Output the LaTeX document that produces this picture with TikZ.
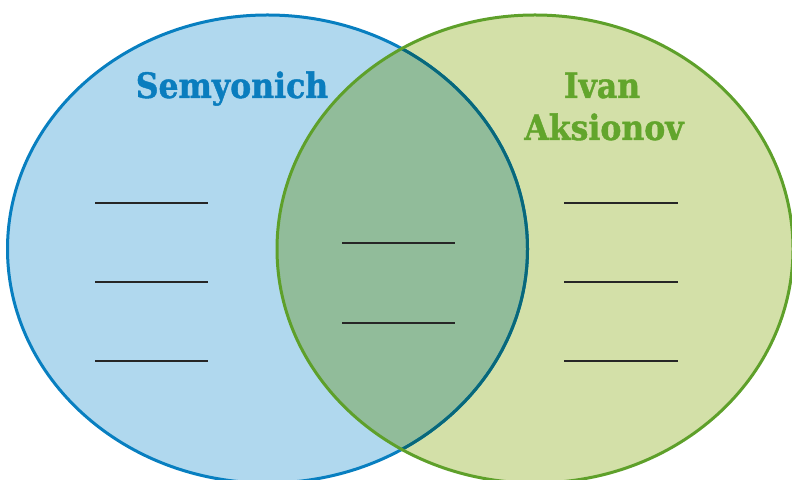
\documentclass[tikz,border=0pt]{standalone}
\usepackage{fontspec}
\newfontfamily\labelfont[FakeStretch=0.9,FakeBold=1.2]{DejaVu Serif}
\definecolor{bluefill}{RGB}{176,216,238}
\definecolor{greenfill}{RGB}{211,224,168}
\definecolor{overlapfill}{RGB}{145,188,154}
\definecolor{bluestroke}{RGB}{8,127,192}
\definecolor{tealstroke}{RGB}{8,104,122}
\definecolor{greenstroke}{RGB}{94,160,42}
\definecolor{bluetext}{RGB}{10,125,190}
\definecolor{greentext}{RGB}{98,165,44}
\begin{document}
\begin{tikzpicture}[x=1pt,y=1pt,
  ring/.style={line width=3pt},
  blank/.style={line width=2.4pt, color=black!85},
  title/.style={font=\labelfont\bfseries\fontsize{35}{42}\selectfont, anchor=base, inner sep=0pt}]
\useasboundingbox (0,0) rectangle (792,479);
\clip (0,0) rectangle (792,479);
% fills
\fill[bluefill] (267.5,230) ellipse [x radius=260, y radius=234];
\fill[greenfill] (535,230) ellipse [x radius=258, y radius=234];
\begin{scope}
  \clip (535,230) ellipse [x radius=258, y radius=234];
  \fill[overlapfill] (267.5,230) ellipse [x radius=260, y radius=234];
\end{scope}
% outlines
\draw[ring, bluestroke] (267.5,230) ellipse [x radius=260, y radius=234];
\begin{scope}
  \clip (535,230) ellipse [x radius=258, y radius=234];
  \draw[ring, tealstroke] (267.5,230) ellipse [x radius=260, y radius=234];
\end{scope}
\draw[ring, greenstroke] (535,230) ellipse [x radius=258, y radius=234];
% titles
\node[title, text=bluetext] (semy) at (232,381) {Semyonich};
\node[title, text=greentext] (ivan) at (602,381) {Ivan};
\node[title, text=greentext] (aks) at (604,339) {Aksionov};
% blanks
\draw[blank] (95,276) -- (208,276);
\draw[blank] (95,197) -- (208,197);
\draw[blank] (95,118) -- (208,118);
\draw[blank] (342,236) -- (455,236);
\draw[blank] (342,156) -- (455,156);
\draw[blank] (564,276) -- (678,276);
\draw[blank] (564,197) -- (678,197);
\draw[blank] (564,118) -- (678,118);
\end{tikzpicture}
\end{document}
